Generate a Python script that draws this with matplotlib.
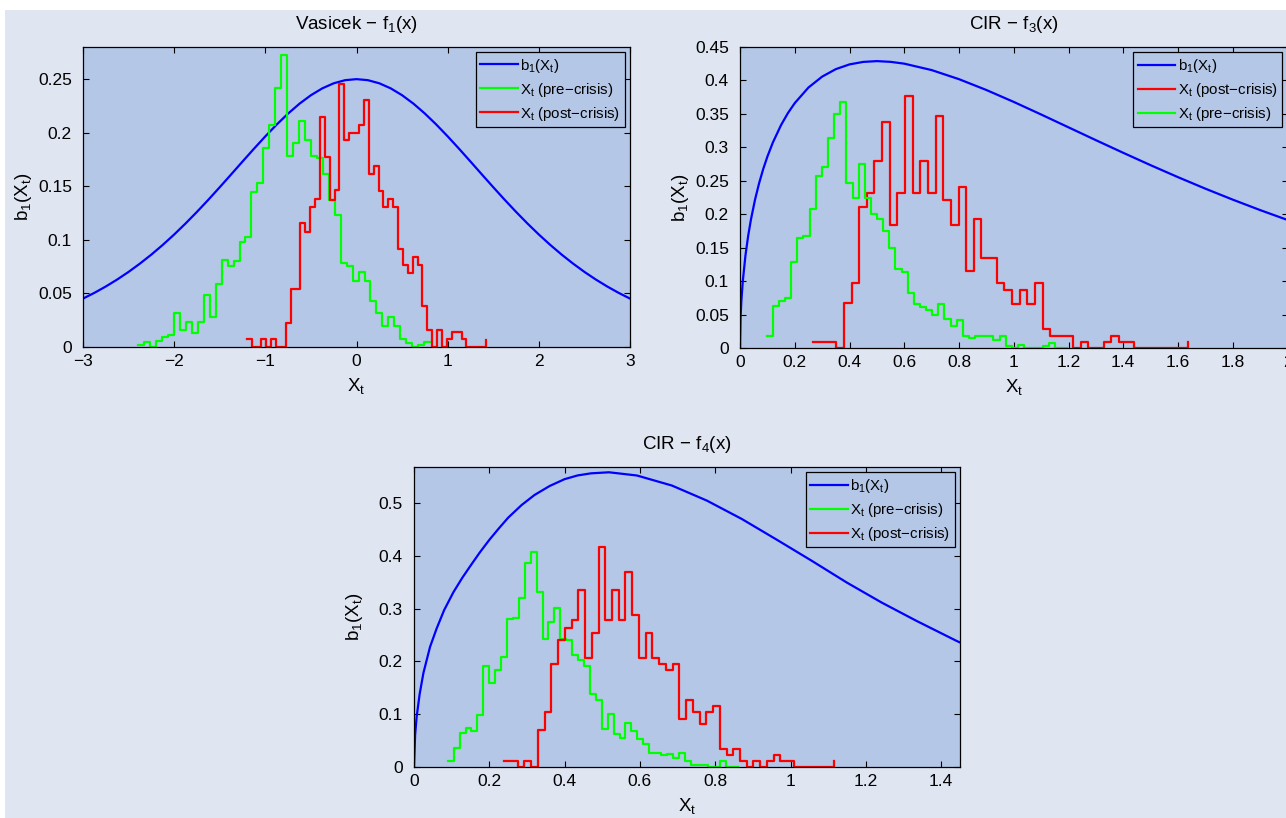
import numpy as np
import matplotlib
matplotlib.use("Agg")
import matplotlib.pyplot as plt
from matplotlib.patches import Rectangle
from matplotlib.ticker import FuncFormatter

plt.rcParams['font.family'] = ['Liberation Sans', 'DejaVu Sans']
plt.rcParams['mathtext.default'] = 'regular'

# ---- Vasicek - f1(x) ----
v_curve_x = [-3, -2.875, -2.75, -2.625, -2.5, -2.375, -2.25, -2.125, -2, -1.875, -1.75,
             -1.625, -1.5, -1.375, -1.25, -1.125, -1, -0.875, -0.75, -0.625, -0.5, -0.375,
             -0.25, -0.125, 0, 0.125, 0.25, 0.375, 0.5, 0.625, 0.75, 0.875, 1, 1.125,
             1.25, 1.375, 1.5, 1.625, 1.75, 1.875, 2, 2.125, 2.25, 2.375, 2.5, 2.625,
             2.75, 2.875, 3]
v_curve_y = [0.04518, 0.05055, 0.05648, 0.06298, 0.07010, 0.07788, 0.08626, 0.09531,
             0.10499, 0.11529, 0.12613, 0.13745, 0.14915, 0.16108, 0.17311, 0.18502,
             0.19661, 0.20765, 0.21789, 0.22710, 0.23500, 0.24141, 0.24613, 0.24903,
             0.25, 0.24903, 0.24613, 0.24141, 0.23500, 0.22710, 0.21789, 0.20765,
             0.19661, 0.18502, 0.17311, 0.16108, 0.14915, 0.13745, 0.12613, 0.11529,
             0.10499, 0.09531, 0.08626, 0.07788, 0.07010, 0.06298, 0.05648, 0.05055,
             0.04518]
v_pre_start, v_pre_width = -2.3931, 0.06529
v_pre = [0.0016, 0.0047, 0, 0.0056, 0.0097, 0.0112, 0.0321, 0.0156, 0.0237, 0.0134,
         0.0237, 0.0487, 0.0281, 0.0587, 0.0815, 0.0752, 0.0799, 0.0977, 0.1024, 0.1451,
         0.1532, 0.186, 0.2069, 0.2419, 0.2725, 0.1779, 0.1904, 0.211, 0.1929, 0.1779,
         0.1767, 0.1617, 0.1373, 0.1233, 0.078, 0.0752, 0.0612, 0.0696, 0.0612, 0.0425,
         0.0321, 0.0197, 0.0281, 0.0197, 0.0078, 0.004, 0, 0.0019, 0.0047, 0.0047]
v_post_start, v_post_width = -1.2048, 0.05356
v_post = [0.0078, 0, 0, 0.0078, 0, 0.0078, 0, 0, 0.0228, 0.054,
          0.054, 0.1155, 0.107, 0.1311, 0.1383, 0.2147, 0.1773, 0.1373, 0.1461, 0.2459,
          0.1929, 0.1998, 0.1998, 0.2069, 0.2303, 0.161, 0.1685, 0.1454, 0.1305, 0.1383,
          0.1305, 0.0914, 0.0768, 0.0687, 0.0843, 0.0768, 0.0378, 0.0156, 0, 0.0156,
          0, 0.0078, 0.0144, 0.0144, 0.0078, 0, 0, 0, 0, 0.0062]

# ---- CIR - f3(x) ----
c3_curve_x = [0, 0.002, 0.005, 0.01, 0.02, 0.03, 0.04, 0.055, 0.07, 0.085, 0.1, 0.12,
              0.15, 0.175, 0.2, 0.25, 0.3, 0.35, 0.4, 0.45, 0.5, 0.55, 0.6, 0.7, 0.8,
              0.9, 1.0, 1.1, 1.2, 1.3, 1.4, 1.5, 1.6, 1.7, 1.8, 1.9, 2.0]
c3_curve_y = [0, 0.0446, 0.0704, 0.099, 0.1386, 0.1681, 0.1922, 0.2220, 0.2467, 0.2678,
              0.2861, 0.3072, 0.3333, 0.3512, 0.3661, 0.3894, 0.4057, 0.4169, 0.424,
              0.4277, 0.4289, 0.4278, 0.4251, 0.4155, 0.4019, 0.3857, 0.3679, 0.3491,
              0.3299, 0.3107, 0.2918, 0.2733, 0.2554, 0.2382, 0.2218, 0.2062, 0.1914]
c3_pre_start, c3_pre_width = 0.0975, 0.02239
c3_pre = [0.0175, 0.0635, 0.07, 0.075, 0.1285, 0.164, 0.1675, 0.2085, 0.2575, 0.27,
          0.3135, 0.3505, 0.368, 0.2465, 0.224, 0.275, 0.224, 0.201, 0.1925, 0.175,
          0.149, 0.1175, 0.1135, 0.0825, 0.0665, 0.0615, 0.0565, 0.049, 0.0665, 0.0435,
          0.0325, 0.0415, 0.0175, 0.015, 0.0175, 0.0175, 0.0175, 0.0125, 0.0175, 0.0035,
          0, 0.005, 0, 0, 0, 0.0025, 0.0075, 0, 0, 0]
c3_post_start, c3_post_width = 0.2681, 0.0279
c3_post = [0.009, 0.009, 0.009, 0, 0.0675, 0.0965, 0.2115, 0.231, 0.28, 0.3375,
           0.1835, 0.231, 0.3765, 0.231, 0.28, 0.231, 0.3475, 0.2215, 0.1835, 0.241,
           0.115, 0.1925, 0.134, 0.134, 0.0965, 0.0865, 0.0665, 0.0865, 0.0665, 0.0965,
           0.0285, 0.0185, 0.0185, 0.0185, 0, 0.009, 0, 0, 0.009, 0.0185,
           0.009, 0.009, 0, 0, 0, 0, 0, 0, 0, 0.009]

# ---- CIR - f4(x) ----
c4_curve_x = [0, 0.003, 0.007, 0.015, 0.025, 0.0426, 0.06, 0.08, 0.1047, 0.128, 0.15,
              0.1745, 0.2, 0.2244, 0.25, 0.2858, 0.32, 0.3601, 0.4, 0.4343, 0.47, 0.5179,
              0.5921, 0.6849, 0.7777, 0.8705, 0.9633, 1.0561, 1.149, 1.2418, 1.3346,
              1.4413, 1.45]
c4_curve_y = [0, 0.061, 0.0948, 0.138, 0.178, 0.2274, 0.262, 0.297, 0.331, 0.358, 0.381,
              0.406, 0.43, 0.451, 0.472, 0.496, 0.515, 0.532, 0.545, 0.552, 0.556, 0.558,
              0.5519, 0.5329, 0.5044, 0.4696, 0.4304, 0.3905, 0.3494, 0.3114, 0.2766,
              0.2386, 0.2358]
c4_pre_start, c4_pre_width = 0.0896, 0.01573
c4_pre = [0.0114, 0.0366, 0.0644, 0.0739, 0.0676, 0.0992, 0.1908, 0.1598, 0.1845, 0.2085,
          0.2798, 0.283, 0.3203, 0.3853, 0.4062, 0.3304, 0.2432, 0.2748, 0.3013, 0.2419,
          0.2401, 0.2116, 0.2021, 0.1908, 0.139, 0.1263, 0.0726, 0.1011, 0.0619, 0.055,
          0.0834, 0.0676, 0.0537, 0.043, 0.0272, 0.0272, 0.0221, 0.0253, 0.0171, 0.0272,
          0.0114, 0.0032, 0.0032, 0.0032, 0, 0, 0.0114, 0, 0, 0]
c4_post_start, c4_post_width = 0.2396, 0.01789
c4_post = [0.0114, 0.0114, 0, 0.0114, 0, 0.0695, 0.1042, 0.1958, 0.2413, 0.2641,
           0.278, 0.3348, 0.2072, 0.254, 0.4169, 0.278, 0.3348, 0.278, 0.3696, 0.2887,
           0.2072, 0.254, 0.2072, 0.1958, 0.1845, 0.1958, 0.0916, 0.1263, 0.1042, 0.0809,
           0.1042, 0.1156, 0.0335, 0.0221, 0.0335, 0.0114, 0, 0.0114, 0, 0.0114,
           0.0221, 0.0114, 0.0114, 0, 0, 0, 0, 0, 0, 0.0114]

lab_b = 'b$_1$(X$_t$)'
lab_pre = 'X$_t$ (pre\u2212crisis)'
lab_post = 'X$_t$ (post\u2212crisis)'

FIG_BG = '#dfe5f1'
AX_BG = '#b4c7e7'
W, H = 1286, 818

fig = plt.figure(figsize=(W / 100, H / 100), dpi=100)
fig.patch.set_facecolor('white')
fig.add_artist(Rectangle((5 / W, 0), 1, (H - 10) / H, transform=fig.transFigure,
                         facecolor=FIG_BG, edgecolor='none', zorder=-10))


def px_axes(left, top, right, bottom):
    return fig.add_axes([left / W, 1 - bottom / H, (right - left) / W, (bottom - top) / H])


def fmt(v, p):
    return ('%g' % v).replace('-', '\u2212')


def stairs(ax, start, width, vals, color, label):
    xs = start + width * np.arange(len(vals))
    ax.step(xs, vals, where='post', color=color, lw=1.6, label=label)


def style(ax, title, xlim, ylim, xticks, yticks):
    ax.set_facecolor(AX_BG)
    ax.set_xlim(*xlim)
    ax.set_ylim(*ylim)
    ax.set_xticks(xticks)
    ax.set_yticks(yticks)
    ax.xaxis.set_major_formatter(FuncFormatter(fmt))
    ax.yaxis.set_major_formatter(FuncFormatter(fmt))
    ax.tick_params(direction='in', top=True, right=True, length=4, width=0.8,
                   labelsize=12.5, colors='black')
    ax.tick_params(axis='y', pad=8)
    ax.tick_params(axis='x', pad=5)
    for s in ax.spines.values():
        s.set_linewidth(0.9)
        s.set_color('black')
    ax.set_title(title, fontsize=13.5, pad=13)
    ax.set_xlabel('X$_t$', fontsize=13.5, labelpad=5)
    ax.set_ylabel(lab_b, fontsize=13.5)
    ax.yaxis.set_label_coords(-0.09, 0.5)


def legend(ax):
    leg = ax.legend(loc='upper right', fontsize=10.8, frameon=True, fancybox=False,
                    borderaxespad=0.35, handlelength=2.5, handletextpad=0.15,
                    labelspacing=0.4, borderpad=0.3)
    fr = leg.get_frame()
    fr.set_facecolor(AX_BG)
    fr.set_edgecolor('black')
    fr.set_linewidth(0.9)
    fr.set_alpha(1)


ax1 = px_axes(83, 47, 630, 347)
ax1.plot(v_curve_x, v_curve_y, color='#0000ff', lw=1.6, label=lab_b)
stairs(ax1, v_pre_start, v_pre_width, v_pre, '#00ff00', lab_pre)
stairs(ax1, v_post_start, v_post_width, v_post, '#ff0000', lab_post)
style(ax1, 'Vasicek \u2212 f$_1$(x)', (-3, 3), (0, 0.28), np.arange(-3, 4, 1),
      np.arange(0, 0.26, 0.05))
legend(ax1)

ax2 = px_axes(740, 47, 1287.5, 348)
ax2.plot(c3_curve_x, c3_curve_y, color='#0000ff', lw=1.6, label=lab_b)
stairs(ax2, c3_post_start, c3_post_width, c3_post, '#ff0000', lab_post)
stairs(ax2, c3_pre_start, c3_pre_width, c3_pre, '#00ff00', lab_pre)
style(ax2, 'CIR \u2212 f$_3$(x)', (0, 2), (0, 0.45), np.arange(0, 2.01, 0.2),
      np.arange(0, 0.451, 0.05))
legend(ax2)

ax3 = px_axes(414, 467, 960, 767)
ax3.plot(c4_curve_x, c4_curve_y, color='#0000ff', lw=1.6, label=lab_b)
stairs(ax3, c4_pre_start, c4_pre_width, c4_pre, '#00ff00', lab_pre)
stairs(ax3, c4_post_start, c4_post_width, c4_post, '#ff0000', lab_post)
style(ax3, 'CIR \u2212 f$_4$(x)', (0, 1.45), (0, 0.568), np.arange(0, 1.41, 0.2),
      np.arange(0, 0.51, 0.1))
legend(ax3)

fig.savefig('out.png', dpi=100, facecolor=fig.get_facecolor())
